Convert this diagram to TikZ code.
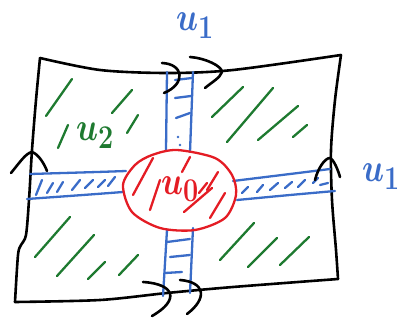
\documentclass[tikz,border=0pt]{standalone}
\usepackage{tikz}
\usepackage{xcolor}
\definecolor{ublue}{RGB}{58,108,200}
\definecolor{ugreen}{RGB}{30,122,48}
\definecolor{ured}{RGB}{228,28,36}
\newcommand{\handlab}[1]{\scalebox{1.3}[1.6]{\boldmath$#1$}}

\begin{document}
\begin{tikzpicture}[
  x=1pt, y=-1pt, line cap=round, line join=round,
  edge/.style={draw, black, line width=2.6pt},
  strip/.style={draw, ublue, line width=2.3pt},
  hatch/.style={draw, ugreen, line width=2.3pt},
  core/.style={draw, ured, line width=2.3pt},
  lab/.style={inner sep=0pt, anchor=base west, font=\fontsize{24.88}{26}\selectfont},
]
\useasboundingbox (0,0) rectangle (398,320);

% domain
\draw[edge] plot[smooth] coordinates {(40,58) (100,70) (167,73) (233,70) (341,55)};
\draw[edge] plot[smooth] coordinates {(341,55) (335,100) (331,150) (332,200) (336,250) (338,279)};
\draw[edge] plot[smooth] coordinates {(338,279) (233,287) (167,293) (100,300) (15,302)};
\draw[edge] plot[smooth] coordinates {(40,58) (36,100) (32,150) (29,200) (26,235) (21,245) (18,255) (15,302)};

% green hatching (u_2)
\foreach \xa/\ya/\xb/\yb in {72/79/46/116, 68/125/58/148, 132/90/112/113, 138/115/127/133,
  243/87/212/117, 273/88/227/142, 298/106/258/140, 307/125/293/137,
  70/217/35/257, 94/235/57/276, 105/262/88/279, 138/255/119/275,
  254/223/220/260, 277/238/248/267, 309/237/280/265}
  \draw[hatch] (\xa,\ya) -- (\xb,\yb);

% blue strips (u_1)
\draw[strip] (167,72) -- (166,150);
\draw[strip] (193,72) -- (190,152);
\draw[strip] (167,230) -- (163,296);
\draw[strip] (193,228) -- (190,293);
\draw[strip] plot[smooth] coordinates {(30,174) (97,172) (126,171)};
\draw[strip] plot[smooth] coordinates {(27,199) (83,195) (123,192)};
\draw[strip] plot[smooth] coordinates {(233,181) (290,174) (330,169)};
\draw[strip] plot[smooth] coordinates {(237,200) (290,195) (335,191)};
\foreach \xa/\ya/\xb/\yb in {175/80/192/78, 175/98/191/96, 176/118/190/113,
  167/242/190/239, 170/257/190/255, 165/273/182/272,
  42/180/36/195, 53/183/47/193, 63/182/57/192, 80/180/72/190,
  93/180/85/188, 105/180/98/187, 115/177/108/186,
  248/187/242/193, 263/185/257/192, 278/183/270/190, 292/182/285/188,
  305/180/298/187, 318/178/313/183, 328/183/320/185}
  \draw[strip] (\xa,\ya) -- (\xb,\yb);
\fill[ublue] (178,137) circle (1.3pt) (180,145) circle (1.3pt);

% red core (u_0)
\draw[core] plot[smooth cycle] coordinates {(177,150) (215,158) (232,175) (236,195)
  (225,218) (195,230) (160,228) (132,212) (123,185) (135,165) (152,155)};
\foreach \xa/\ya/\xb/\yb in {153/158/133/195, 160/180/150/210, 190/157/182/172,
  218/172/207/190, 212/188/184/212, 225/193/210/218, 207/183/199/193}
  \draw[core] (\xa,\ya) -- (\xb,\yb);

% periodic arrows
\draw[edge] (162,63) .. controls (184,64) and (186,84) .. (164,93);
\draw[edge] (190,57) .. controls (205,58) and (222,66) .. (222,72) .. controls (220,78) and (212,82) .. (205,88);
\draw[edge] (143,282) .. controls (175,284) and (180,300) .. (152,316);
\draw[edge] (180,280) .. controls (205,282) and (208,298) .. (187,314);
\draw[edge] (11,173) .. controls (20,162) and (26,153) .. (32,152) .. controls (38,154) and (44,163) .. (47,171);
\draw[edge] (315,180) .. controls (318,168) and (325,158) .. (330,158) .. controls (334,160) and (338,170) .. (340,177);

% labels
\node[lab, text=ublue] (u1top) at (176,31) {\handlab{u_1}};
\node[lab, text=ublue] (u1right) at (362,182) {\handlab{u_1}};
\node[lab, text=ugreen] (u2) at (76,141) {\handlab{u_2}};
\node[lab, text=ured] (u0) at (161,194) {\handlab{u_0}};
\end{tikzpicture}
\end{document}
